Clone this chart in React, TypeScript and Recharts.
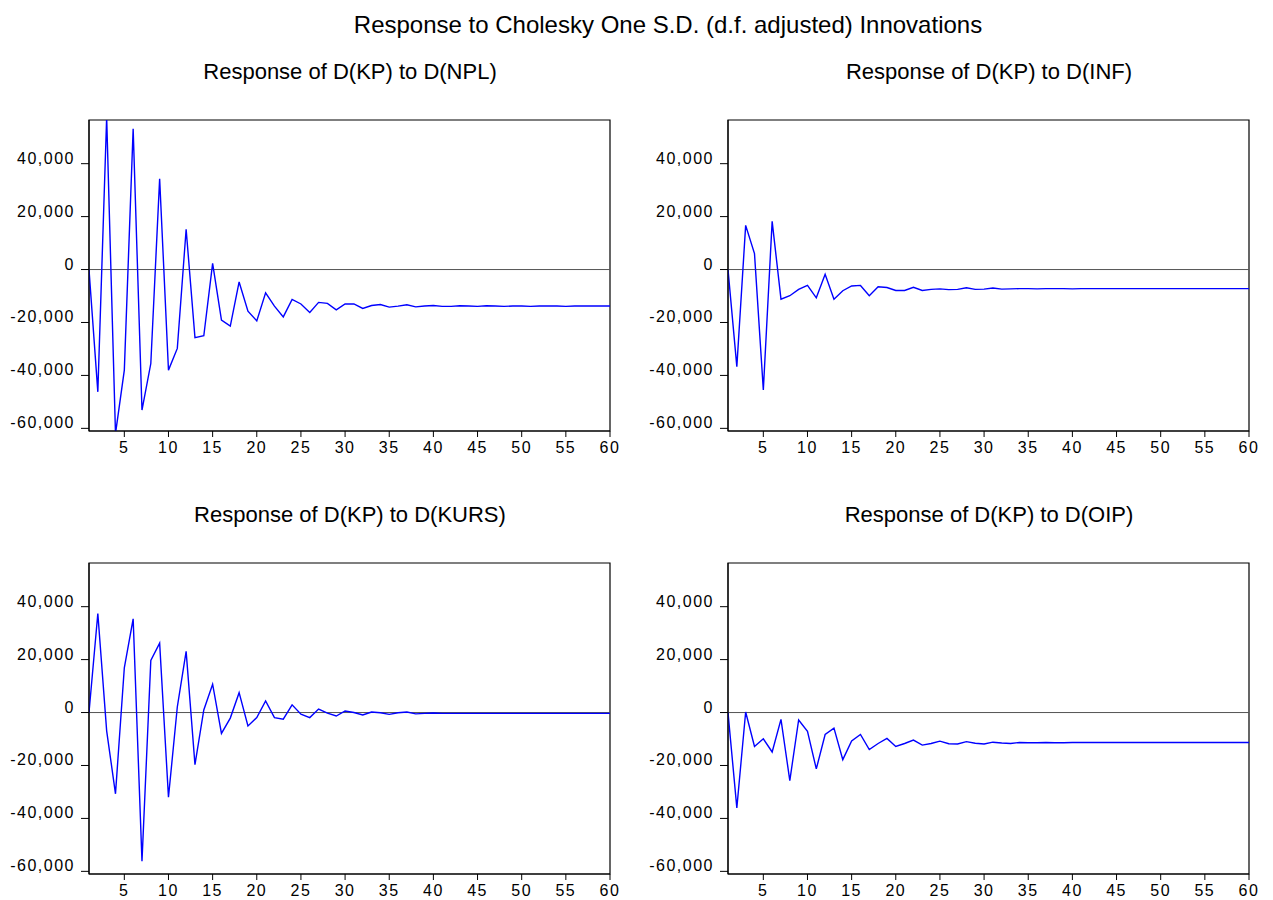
// Impulse responses of D(KP), four panels in an EViews-style 2x2 grid.

import { LineChart, Line, XAxis, YAxis, ReferenceLine, ReferenceArea } from "recharts";

const periods = [
  1, 2, 3, 4, 5, 6, 7, 8, 9, 10, 11, 12, 13, 14, 15, 16, 17, 18, 19, 20,
  21, 22, 23, 24, 25, 26, 27, 28, 29, 30, 31, 32, 33, 34, 35, 36, 37, 38, 39, 40,
  41, 42, 43, 44, 45, 46, 47, 48, 49, 50, 51, 52, 53, 54, 55, 56, 57, 58, 59, 60,
];

const toNpl = [
  0, -46200, 57500, -62000, -38000, 53200, -53100, -35500, 34300, -38000,
  -29800, 15200, -25700, -25000, 2300, -19100, -21400, -4700, -15700, -19400,
  -8800, -13800, -17900, -11300, -13000, -16200, -12400, -12800, -15200, -13000,
  -13000, -14700, -13600, -13200, -14200, -13800, -13300, -14100, -13800, -13600,
  -13900, -13900, -13700, -13800, -13900, -13700, -13800, -13900, -13800, -13800,
  -13900, -13800, -13800, -13800, -13900, -13800, -13800, -13800, -13800, -13800,
];

const toInf = [
  0, -36700, 16700, 6000, -45500, 18200, -11200, -9900, -7500, -6000,
  -10700, -1800, -11200, -8000, -6200, -6000, -9900, -6500, -6800, -7900,
  -7900, -6700, -7900, -7500, -7300, -7600, -7500, -6900, -7500, -7400,
  -7000, -7400, -7300, -7200, -7200, -7300, -7200, -7200, -7200, -7300,
  -7200, -7200, -7200, -7200, -7200, -7200, -7200, -7200, -7200, -7200,
  -7200, -7200, -7200, -7200, -7200, -7200, -7200, -7200, -7200, -7200,
];

const toKurs = [
  0, 37400, -6900, -30700, 16900, 35400, -56200, 19700, 26200, -32000,
  2100, 23100, -19700, 1000, 10700, -7900, -2100, 7500, -5100, -1900,
  4400, -1900, -2500, 2900, -600, -1900, 1300, -200, -1300, 600,
  0, -900, 200, -100, -700, -100, 200, -500, -300, -200,
  -300, -300, -300, -300, -300, -300, -300, -300, -300, -300,
  -300, -300, -300, -300, -300, -300, -300, -300, -300, -300,
];

const toOip = [
  0, -36000, 200, -12800, -9900, -14900, -2600, -25700, -2800, -7100,
  -21300, -8300, -5900, -17800, -10700, -8300, -14000, -11700, -9800, -12800,
  -11700, -10400, -12300, -11700, -10800, -11800, -11900, -11000, -11600, -11900,
  -11200, -11500, -11700, -11300, -11400, -11400, -11300, -11400, -11400, -11300,
  -11300, -11300, -11300, -11300, -11300, -11300, -11300, -11300, -11300, -11300,
  -11300, -11300, -11300, -11300, -11300, -11300, -11300, -11300, -11300, -11300,
];

const xTicks = [5, 10, 15, 20, 25, 30, 35, 40, 45, 50, 55, 60];
const yTicks = [-60000, -40000, -20000, 0, 20000, 40000];
const yDomain: [number, number] = [-61000, 56500];

const data = periods.map((t, i) => ({
  t, npl: toNpl[i], inf: toInf[i], kurs: toKurs[i], oip: toOip[i],
}));

const panels = [
  { key: "npl", title: "Response of D(KP) to D(NPL)", left: 0, top: 100 },
  { key: "inf", title: "Response of D(KP) to D(INF)", left: 639, top: 100 },
  { key: "kurs", title: "Response of D(KP) to D(KURS)", left: 0, top: 543 },
  { key: "oip", title: "Response of D(KP) to D(OIP)", left: 639, top: 543 },
];

const font = '"Liberation Sans", Arial, sans-serif';
const fmt = (v: number) => v.toLocaleString("en-US");

const YTick = ({ x, y, payload }: any) => (
  <text x={x} y={y} textAnchor="end" fontSize={16} fill="#000"
        style={{ fontFamily: font, letterSpacing: 1.5 }}>
    {fmt(payload.value)}
  </text>
);

function Panel({ dataKey, left, top }: { dataKey: string; left: number; top: number }) {
  return (
    <div style={{ position: "absolute", left, top }}>
      <LineChart width={630} height={370} data={data}
                 margin={{ top: 20, right: 20, left: 0, bottom: 9 }}>
        <XAxis dataKey="t" type="number" domain={[1, 60]} ticks={xTicks} allowDataOverflow
               height={30} tickSize={6} tickMargin={5} interval={0}
               axisLine={{ stroke: "#000" }} tickLine={{ stroke: "#000" }}
               tick={{ fontSize: 16, fill: "#000", fontFamily: font, letterSpacing: 1.5 }} />
        <YAxis type="number" domain={yDomain} ticks={yTicks} allowDataOverflow
               width={89} tickSize={8} tickMargin={6} interval={0}
               axisLine={{ stroke: "#000" }} tickLine={{ stroke: "#000" }} tick={<YTick />} />
        <ReferenceArea x1={1} x2={60} y1={yDomain[0]} y2={yDomain[1]} fill="none"
                       stroke="#000" strokeWidth={1.2} ifOverflow="visible" />
        <ReferenceLine y={0} stroke="#555" strokeWidth={1} />
        <Line isAnimationActive={false} type="linear" dataKey={dataKey} stroke="#0000ff"
              strokeWidth={1.4} dot={false} />
      </LineChart>
    </div>
  );
}

export default function App() {
  return (
    <div style={{ position: "absolute", left: 0, top: 0, width: 1273, height: 900, background: "#fff" }}>
      <svg width={1273} height={900} style={{ position: "absolute", left: 0, top: 0 }}>
        <text x={668} y={33} textAnchor="middle" fontSize={24} fill="#000" style={{ fontFamily: font }}>
          Response to Cholesky One S.D. (d.f. adjusted) Innovations
        </text>
        {panels.map((p) => (
          <text key={p.key} x={p.left + 350} y={p.top - 21} textAnchor="middle" fontSize={22}
                fill="#000" style={{ fontFamily: font }}>
            {p.title}
          </text>
        ))}
      </svg>
      {panels.map((p) => (
        <Panel key={p.key} dataKey={p.key} left={p.left} top={p.top} />
      ))}
    </div>
  );
}
